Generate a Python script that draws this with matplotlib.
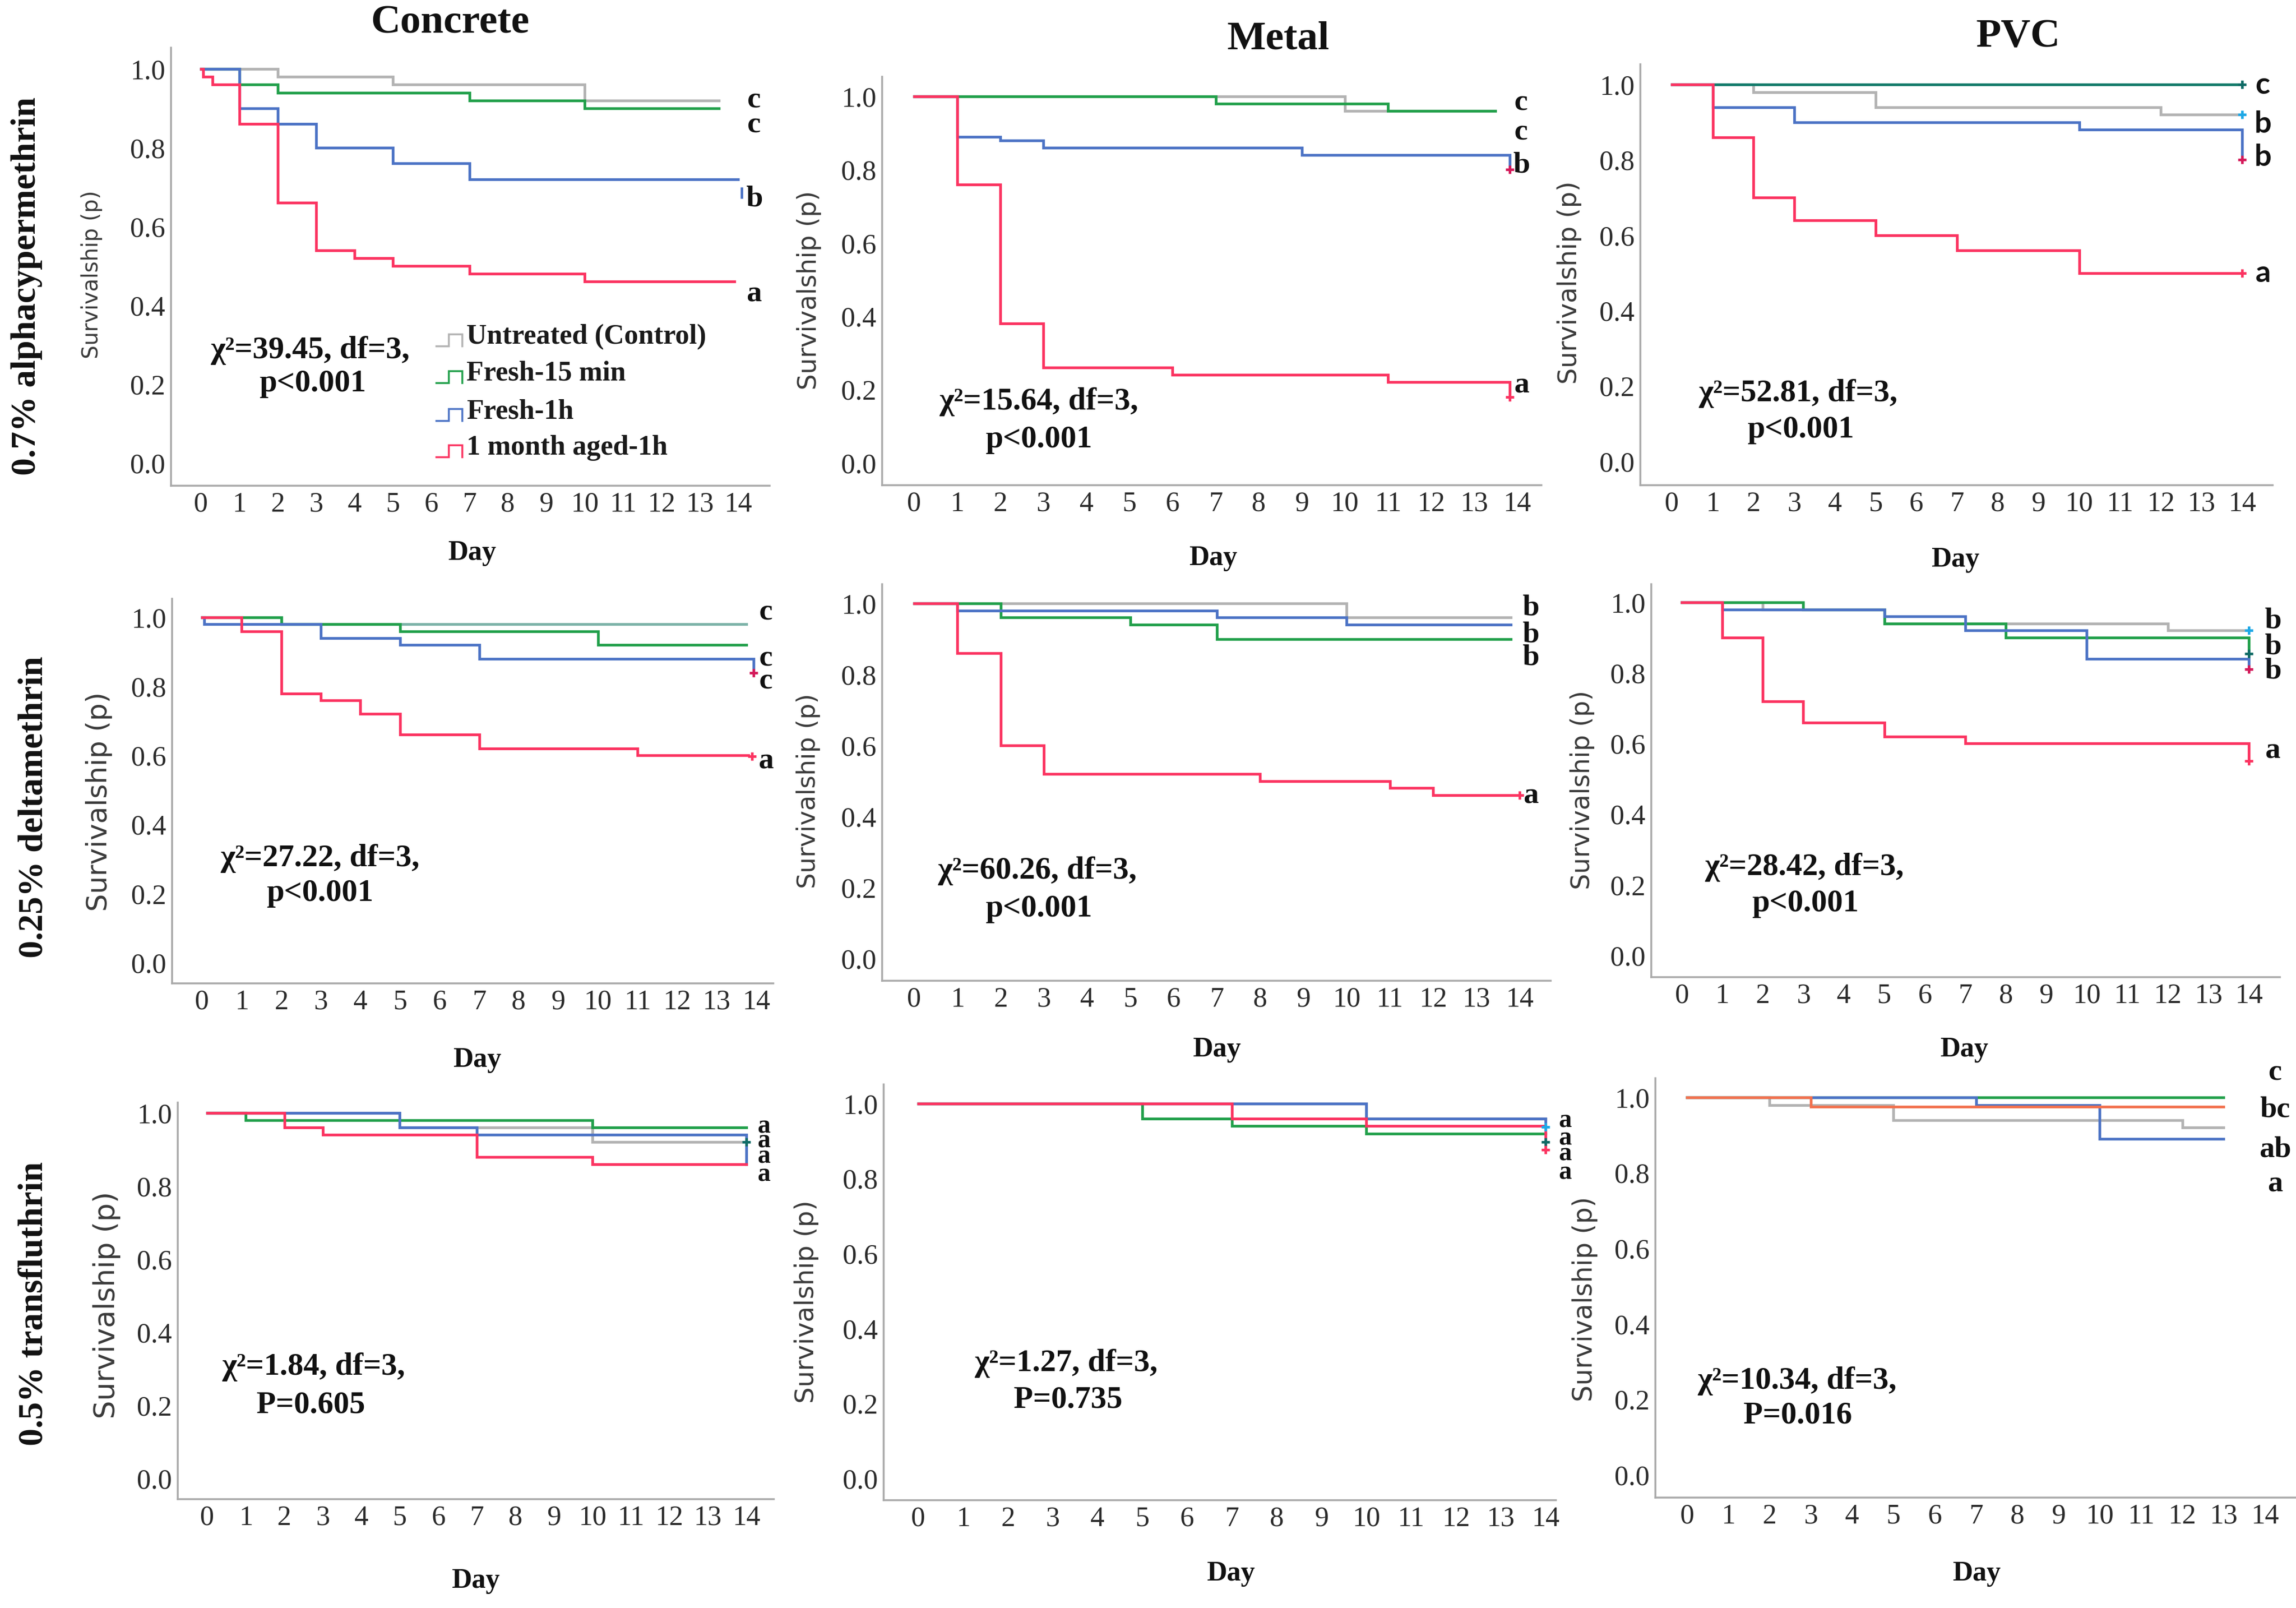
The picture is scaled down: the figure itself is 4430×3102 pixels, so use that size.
import matplotlib
matplotlib.use("Agg")
import matplotlib.pyplot as plt

W, H = 4430, 3102
DPI = 100
PX = 72.0 / DPI  # points per pixel

# ------------------------------------------------------------------ data
surfaces = ["Concrete", "Metal", "PVC"]
insecticides = ["0.7% alphacypermethrin", "0.25% deltamethrin", "0.5% transfluthrin"]
groups = ["Untreated (Control)", "Fresh-15 min", "Fresh-1h", "1 month aged-1h"]
day_ticks = list(range(15))
surv_ticks = [0.0, 0.2, 0.4, 0.6, 0.8, 1.0]

# 0.7% alphacypermethrin - Concrete
ca_ctrl_t = [0, 2, 5, 10, 13.5]
ca_ctrl_s = [1.0, 0.98, 0.96, 0.92, 0.92]
ca_f15_t = [0, 1, 2, 7, 10, 13.5]
ca_f15_s = [1.0, 0.96, 0.94, 0.92, 0.90, 0.90]
ca_f1h_t = [0, 1, 2, 3, 5, 7, 14]
ca_f1h_s = [1.0, 0.90, 0.86, 0.80, 0.76, 0.72, 0.72]
ca_aged_t = [0, 0.05, 0.3, 1, 2, 3, 4, 5, 7, 10, 13.9]
ca_aged_s = [1.0, 0.98, 0.96, 0.86, 0.66, 0.54, 0.52, 0.50, 0.48, 0.46, 0.46]
# 0.7% alphacypermethrin - Metal
ma_ctrl_t = [0, 10, 13.5]
ma_ctrl_s = [1.0, 0.96, 0.96]
ma_f15_t = [0, 7, 11, 13.5]
ma_f15_s = [1.0, 0.98, 0.96, 0.96]
ma_f1h_t = [0, 1, 2, 3, 9, 13.83, 13.83]
ma_f1h_s = [1.0, 0.89, 0.88, 0.86, 0.84, 0.84, 0.80]
ma_aged_t = [0, 1, 2, 3, 6, 11, 13.83, 13.83]
ma_aged_s = [1.0, 0.76, 0.38, 0.26, 0.24, 0.22, 0.22, 0.18]
# 0.7% alphacypermethrin - PVC
pa_ctrl_t = [0, 2, 5, 12, 14]
pa_ctrl_s = [1.0, 0.98, 0.94, 0.92, 0.92]
pa_f15_t = [0, 14]
pa_f15_s = [1.0, 1.0]
pa_f1h_t = [0, 1, 3, 10, 14, 14]
pa_f1h_s = [1.0, 0.94, 0.90, 0.88, 0.88, 0.80]
pa_aged_t = [0, 1, 2, 3, 5, 7, 10, 14]
pa_aged_s = [1.0, 0.86, 0.70, 0.64, 0.60, 0.56, 0.50, 0.50]

# 0.25% deltamethrin - Concrete
cd_ctrl_t = [0, 2, 13.75]
cd_ctrl_s = [1.0, 0.98, 0.98]
cd_f15_t = [0, 2, 5, 10, 13.75]
cd_f15_s = [1.0, 0.98, 0.96, 0.92, 0.92]
cd_f1h_t = [0, 0.05, 3, 5, 7, 13.94, 13.94]
cd_f1h_s = [1.0, 0.98, 0.94, 0.92, 0.88, 0.88, 0.84]
cd_aged_t = [0, 1, 2, 3, 4, 5, 7, 11, 13.8]
cd_aged_s = [1.0, 0.96, 0.78, 0.76, 0.72, 0.66, 0.62, 0.60, 0.60]
# 0.25% deltamethrin - Metal
md_ctrl_t = [0, 10, 13.8]
md_ctrl_s = [1.0, 0.96, 0.96]
md_f15_t = [0, 2, 5, 7, 13.8]
md_f15_s = [1.0, 0.96, 0.94, 0.90, 0.90]
md_f1h_t = [0, 1, 7, 10, 13.8]
md_f1h_s = [1.0, 0.98, 0.96, 0.94, 0.94]
md_aged_t = [0, 1, 2, 3, 8, 11, 12, 14]
md_aged_s = [1.0, 0.86, 0.60, 0.52, 0.50, 0.48, 0.46, 0.46]
# 0.25% deltamethrin - PVC
pd_ctrl_t = [0, 2, 5, 12, 14]
pd_ctrl_s = [1.0, 0.98, 0.94, 0.92, 0.92]
pd_f15_t = [0, 3, 5, 8, 14, 14]
pd_f15_s = [1.0, 0.98, 0.94, 0.90, 0.90, 0.855]
pd_f1h_t = [0, 1, 5, 7, 10, 14, 14]
pd_f1h_s = [1.0, 0.98, 0.96, 0.92, 0.84, 0.84, 0.81]
pd_aged_t = [0, 1, 2, 3, 5, 7, 14, 14]
pd_aged_s = [1.0, 0.90, 0.72, 0.66, 0.62, 0.60, 0.60, 0.55]

# 0.5% transfluthrin - Concrete
ct_ctrl_t = [0, 5, 10, 14]
ct_ctrl_s = [1.0, 0.96, 0.92, 0.92]
ct_f15_t = [0, 1, 10, 14]
ct_f15_s = [1.0, 0.98, 0.96, 0.96]
ct_f1h_t = [0, 5, 7, 14, 14]
ct_f1h_s = [1.0, 0.96, 0.94, 0.94, 0.86]
ct_aged_t = [0, 2, 3, 7, 10, 14]
ct_aged_s = [1.0, 0.96, 0.94, 0.88, 0.86, 0.86]
# 0.5% transfluthrin - Metal
mt_ctrl_t = [0, 10, 14]
mt_ctrl_s = [1.0, 0.96, 0.96]
mt_f15_t = [0, 5, 7, 10, 14]
mt_f15_s = [1.0, 0.96, 0.94, 0.92, 0.92]
mt_f1h_t = [0, 10, 14, 14]
mt_f1h_s = [1.0, 0.96, 0.96, 0.938]
mt_aged_t = [0, 7, 10, 14, 14]
mt_aged_s = [1.0, 0.96, 0.94, 0.94, 0.877]
# 0.5% transfluthrin - PVC
pt_ctrl_t = [0, 2, 5, 12, 13]
pt_ctrl_s = [1.0, 0.98, 0.94, 0.92, 0.92]
pt_f15_t = [0, 13]
pt_f15_s = [1.0, 1.0]
pt_f1h_t = [0, 7, 10, 13]
pt_f1h_s = [1.0, 0.98, 0.89, 0.89]
pt_aged_t = [0, 3, 13]
pt_aged_s = [1.0, 0.975, 0.975]

chi_texts = ["χ²=39.45, df=3,", "χ²=15.64, df=3,", "χ²=52.81, df=3,",
             "χ²=27.22, df=3,", "χ²=60.26, df=3,", "χ²=28.42, df=3,",
             "χ²=1.84, df=3,", "χ²=1.27, df=3,", "χ²=10.34, df=3,"]
p_texts = ["p<0.001", "p<0.001", "p<0.001",
           "p<0.001", "p<0.001", "p<0.001",
           "P=0.605", "P=0.735", "P=0.016"]

# significance letters per panel and their survival position
letters_ca = ["c", "c", "b", "a"]; letters_ca_y = [0.92, 0.857, 0.671, 0.428]
letters_ma = ["c", "c", "b", "a"]; letters_ma_y = [0.983, 0.902, 0.812, 0.212]
letters_pa = ["c", "b", "b", "a"]; letters_pa_y = [0.998, 0.895, 0.807, 0.498]
letters_cd = ["c", "c", "c", "a"]; letters_cd_y = [1.015, 0.88, 0.814, 0.583]
letters_md = ["b", "b", "b", "a"]; letters_md_y = [0.987, 0.912, 0.848, 0.457]
letters_pd = ["b", "b", "b", "a"]; letters_pd_y = [0.948, 0.874, 0.805, 0.579]
letters_ct = ["a", "a", "a", "a"]; letters_ct_y = [0.962, 0.923, 0.88, 0.83]
letters_mt = ["a", "a", "a", "a"]; letters_mt_y = [0.954, 0.906, 0.865, 0.816]
letters_pt = ["c", "bc", "ab", "a"]; letters_pt_y = [1.065, 0.968, 0.862, 0.77]
letters_x = [14.42, 14.1, 14.51, 14.25, 14.26, 14.59, 14.46, 14.44, 14.25]

# censor marks (day, value, colour key)
marks_ca = [(14.1, 0.685, "blue_bar")]
marks_ma = [(13.83, 0.80, "crimson"), (13.83, 0.18, "red")]
marks_pa = [(14, 1.0, "teal"), (14, 0.92, "cyan"), (14, 0.80, "crimson"), (14, 0.50, "red")]
marks_cd = [(13.94, 0.84, "crimson"), (13.9, 0.598, "red")]
marks_md = [(14, 0.46, "red")]
marks_pd = [(14, 0.92, "cyan"), (14, 0.855, "teal"), (14, 0.81, "crimson"), (14, 0.55, "red")]
marks_ct = [(14, 0.92, "teal")]
marks_mt = [(14, 0.938, "cyan"), (14, 0.898, "teal"), (14, 0.877, "red")]
marks_pt = []

# ------------------------------------------------------------------ style
COL = {"ctrl": "#b3b3b3", "f15": "#22a04b", "f1h": "#4c73c5", "aged": "#fb3461"}
MK = {"cyan": "#1ea8e6", "teal": "#0f6b66", "crimson": "#d41a5a",
      "red": "#fb3461", "blue_bar": "#4c73c5"}
SERIF = "Liberation Serif"
SANS = "DejaVu Sans"

# pixel layout of each panel: left, right, top, bottom spine; pixel of day 0/14, of p=1/p=0
layout = [
    (330, 1485, 92, 937, 388, 1424, 133, 893),
    (1702, 2974, 148, 936, 1764, 2927, 186, 893),
    (3165, 4385, 124, 936, 3226, 4326, 163, 890),
    (332, 1492, 1155, 1897, 390, 1459, 1191, 1857),
    (1702, 2992, 1127, 1892, 1764, 2932, 1164, 1849),
    (3186, 4399, 1127, 1885, 3245, 4339, 1162, 1843),
    (343, 1493, 2127, 2892, 400, 1440, 2147, 2852),
    (1705, 3002, 2092, 2894, 1772, 2982, 2129, 2852),
    (3194, 4430, 2080, 2889, 3255, 4370, 2117, 2845),
]
ylabel_pos = [(177, 530, 41.5), (1561, 560, 49), (3028, 545, 50),
              (191, 1546, 54), (1560, 1526, 48), (3053, 1524, 49),
              (206, 2518, 56), (1556, 2511, 50), (3058, 2506, 50.5)]
day_pos = [(911, 1067), (2341, 1077), (3773, 1080),
           (921, 2045), (2348, 2025), (3790, 2025),
           (918, 3050), (2375, 3036), (3814, 3036)]
chi_pos = [((598, 676), (603, 740)), ((2004, 775), (2004, 848)), ((3469, 759), (3474, 829)),
           ((617, 1656), (617, 1723)), ((2001, 1680), (2004, 1753)), ((3481, 1673), (3483, 1743)),
           ((605, 2637), (600, 2711)), ((2057, 2630), (2061, 2701)), ((3467, 2664), (3469, 2731))]
title_pos = [(868, 45), (2466, 76), (3894, 72)]
rowlabel_pos = [(52, 552), (65, 1557), (65, 2515)]
letter_size = [42, 42, 42, 42, 42, 42, 36, 36, 42]

panels = [
    dict(series=[(ca_ctrl_t, ca_ctrl_s, COL["ctrl"]), (ca_f15_t, ca_f15_s, COL["f15"]),
                 (ca_f1h_t, ca_f1h_s, COL["f1h"]), (ca_aged_t, ca_aged_s, COL["aged"])],
         letters=letters_ca, letters_y=letters_ca_y, marks=marks_ca, lfont=SERIF),
    dict(series=[(ma_ctrl_t, ma_ctrl_s, COL["ctrl"]), (ma_f15_t, ma_f15_s, COL["f15"]),
                 (ma_f1h_t, ma_f1h_s, COL["f1h"]), (ma_aged_t, ma_aged_s, COL["aged"])],
         letters=letters_ma, letters_y=letters_ma_y, marks=marks_ma, lfont=SERIF),
    dict(series=[(pa_ctrl_t, pa_ctrl_s, COL["ctrl"]), (pa_f15_t, pa_f15_s, "#127a6a"),
                 (pa_f1h_t, pa_f1h_s, COL["f1h"]), (pa_aged_t, pa_aged_s, COL["aged"])],
         letters=letters_pa, letters_y=letters_pa_y, marks=marks_pa, lfont="Lato"),
    dict(series=[(cd_ctrl_t, cd_ctrl_s, "#7db3a8"), (cd_f15_t, cd_f15_s, COL["f15"]),
                 (cd_f1h_t, cd_f1h_s, COL["f1h"]), (cd_aged_t, cd_aged_s, COL["aged"])],
         letters=letters_cd, letters_y=letters_cd_y, marks=marks_cd, lfont=SERIF),
    dict(series=[(md_ctrl_t, md_ctrl_s, COL["ctrl"]), (md_f15_t, md_f15_s, COL["f15"]),
                 (md_f1h_t, md_f1h_s, COL["f1h"]), (md_aged_t, md_aged_s, COL["aged"])],
         letters=letters_md, letters_y=letters_md_y, marks=marks_md, lfont=SERIF),
    dict(series=[(pd_ctrl_t, pd_ctrl_s, COL["ctrl"]), (pd_f15_t, pd_f15_s, COL["f15"]),
                 (pd_f1h_t, pd_f1h_s, COL["f1h"]), (pd_aged_t, pd_aged_s, COL["aged"])],
         letters=letters_pd, letters_y=letters_pd_y, marks=marks_pd, lfont=SERIF),
    dict(series=[(ct_ctrl_t, ct_ctrl_s, COL["ctrl"]), (ct_f15_t, ct_f15_s, COL["f15"]),
                 (ct_f1h_t, ct_f1h_s, COL["f1h"]), (ct_aged_t, ct_aged_s, COL["aged"])],
         letters=letters_ct, letters_y=letters_ct_y, marks=marks_ct, lfont=SERIF),
    dict(series=[(mt_ctrl_t, mt_ctrl_s, "#8f9691"), (mt_f15_t, mt_f15_s, COL["f15"]),
                 (mt_f1h_t, mt_f1h_s, COL["f1h"]), (mt_aged_t, mt_aged_s, COL["aged"])],
         letters=letters_mt, letters_y=letters_mt_y, marks=marks_mt, lfont=SERIF),
    dict(series=[(pt_ctrl_t, pt_ctrl_s, COL["ctrl"]), (pt_f15_t, pt_f15_s, COL["f15"]),
                 (pt_f1h_t, pt_f1h_s, COL["f1h"]), (pt_aged_t, pt_aged_s, "#f2714e")],
         letters=letters_pt, letters_y=letters_pt_y, marks=marks_pt, lfont=SERIF),
]

# ------------------------------------------------------------------ figure
fig = plt.figure(figsize=(W / DPI, H / DPI), dpi=DPI, facecolor="white")

for i, pnl in enumerate(panels):
    left, right, top, bottom, x0, x14, y1, y0 = layout[i]
    ax = fig.add_axes([left / W, 1 - bottom / H, (right - left) / W, (bottom - top) / H])
    ax.set_facecolor("none")
    xpd = (x14 - x0) / 14.0
    ypd = float(y0 - y1)
    ax.set_xlim((left - x0) / xpd, (right - x0) / xpd)
    ax.set_ylim((y0 - bottom) / ypd, (y0 - top) / ypd)
    for s in ("top", "right"):
        ax.spines[s].set_visible(False)
    for s in ("left", "bottom"):
        ax.spines[s].set_color("#a9a9a9")
        ax.spines[s].set_linewidth(2.6)
    ax.set_xticks(day_ticks)
    ax.set_xticklabels([str(d) for d in day_ticks])
    ax.set_yticks(surv_ticks)
    ax.set_yticklabels(["%.1f" % v for v in surv_ticks])
    ax.tick_params(length=0, pad=8, labelsize=39, labelcolor="#2b2b2b")
    for lab in ax.get_xticklabels() + ax.get_yticklabels():
        lab.set_fontfamily(SERIF)

    for t, s, c in pnl["series"]:
        ax.step(t, s, where="post", color=c, lw=3.8, solid_joinstyle="miter",
                clip_on=False, zorder=3)
    for (d, v, key) in pnl["marks"]:
        if key == "blue_bar":
            ax.plot([d], [v], marker="|", ms=16, mew=3.5, color=MK[key],
                    clip_on=False, zorder=4)
        else:
            ax.plot([d], [v], marker="+", ms=11, mew=3.6, color=MK[key],
                    clip_on=False, zorder=4)
    for txt, v in zip(pnl["letters"], pnl["letters_y"]):
        ax.text(letters_x[i], v, txt, ha="center", va="center", fontsize=letter_size[i],
                fontweight="bold", family=pnl["lfont"], color="#111111", clip_on=False)

# overlay for free-standing labels (pixel coordinates)
ov = fig.add_axes([0, 0, 1, 1])
ov.set_xlim(0, W)
ov.set_ylim(H, 0)
ov.axis("off")

for (x, y), name in zip(title_pos, surfaces):
    ov.text(x, y, name, ha="center", va="center", fontsize=57, fontweight="bold",
            family=SERIF, color="#111111")
for (x, y), name in zip(rowlabel_pos, insecticides):
    ov.text(x, y, name, ha="center", va="center", rotation=90, fontsize=49,
            fontweight="bold", family=SERIF, color="#111111")
for i in range(9):
    x, y, fpx = ylabel_pos[i]
    ov.text(x, y, "Survivalship (p)", ha="center", va="center", rotation=90,
            fontsize=fpx * PX, family=SANS, color="#3a3a3a")
    dx, dy = day_pos[i]
    ov.text(dx, dy, "Day", ha="center", va="center", fontsize=39, fontweight="bold",
            family=SERIF, color="#111111")
    (cx1, cy1), (cx2, cy2) = chi_pos[i]
    ov.text(cx1, cy1, chi_texts[i], ha="center", va="center", fontsize=44,
            fontweight="bold", family=SERIF, color="#111111")
    ov.text(cx2, cy2, p_texts[i], ha="center", va="center", fontsize=44,
            fontweight="bold", family=SERIF, color="#111111")

# legend (first panel) with step-shaped icons
leg_text_x = 900
leg_rows_y = [650, 721, 794, 864]
leg_colors = [COL["ctrl"], COL["f15"], COL["f1h"], COL["aged"]]
for y, lab, c in zip(leg_rows_y, groups, leg_colors):
    ix = [842, 866, 866, 892, 892]
    iy = [y + 18, y + 18, y - 5, y - 5, y + 18]
    ov.plot(ix, iy, color=c, lw=2.6, solid_joinstyle="miter")
    ov.text(leg_text_x, y, lab, ha="left", va="center", fontsize=39,
            fontweight="bold", family=SERIF, color="#1a1a1a")

fig.savefig("out.png", dpi=DPI, facecolor="white")
